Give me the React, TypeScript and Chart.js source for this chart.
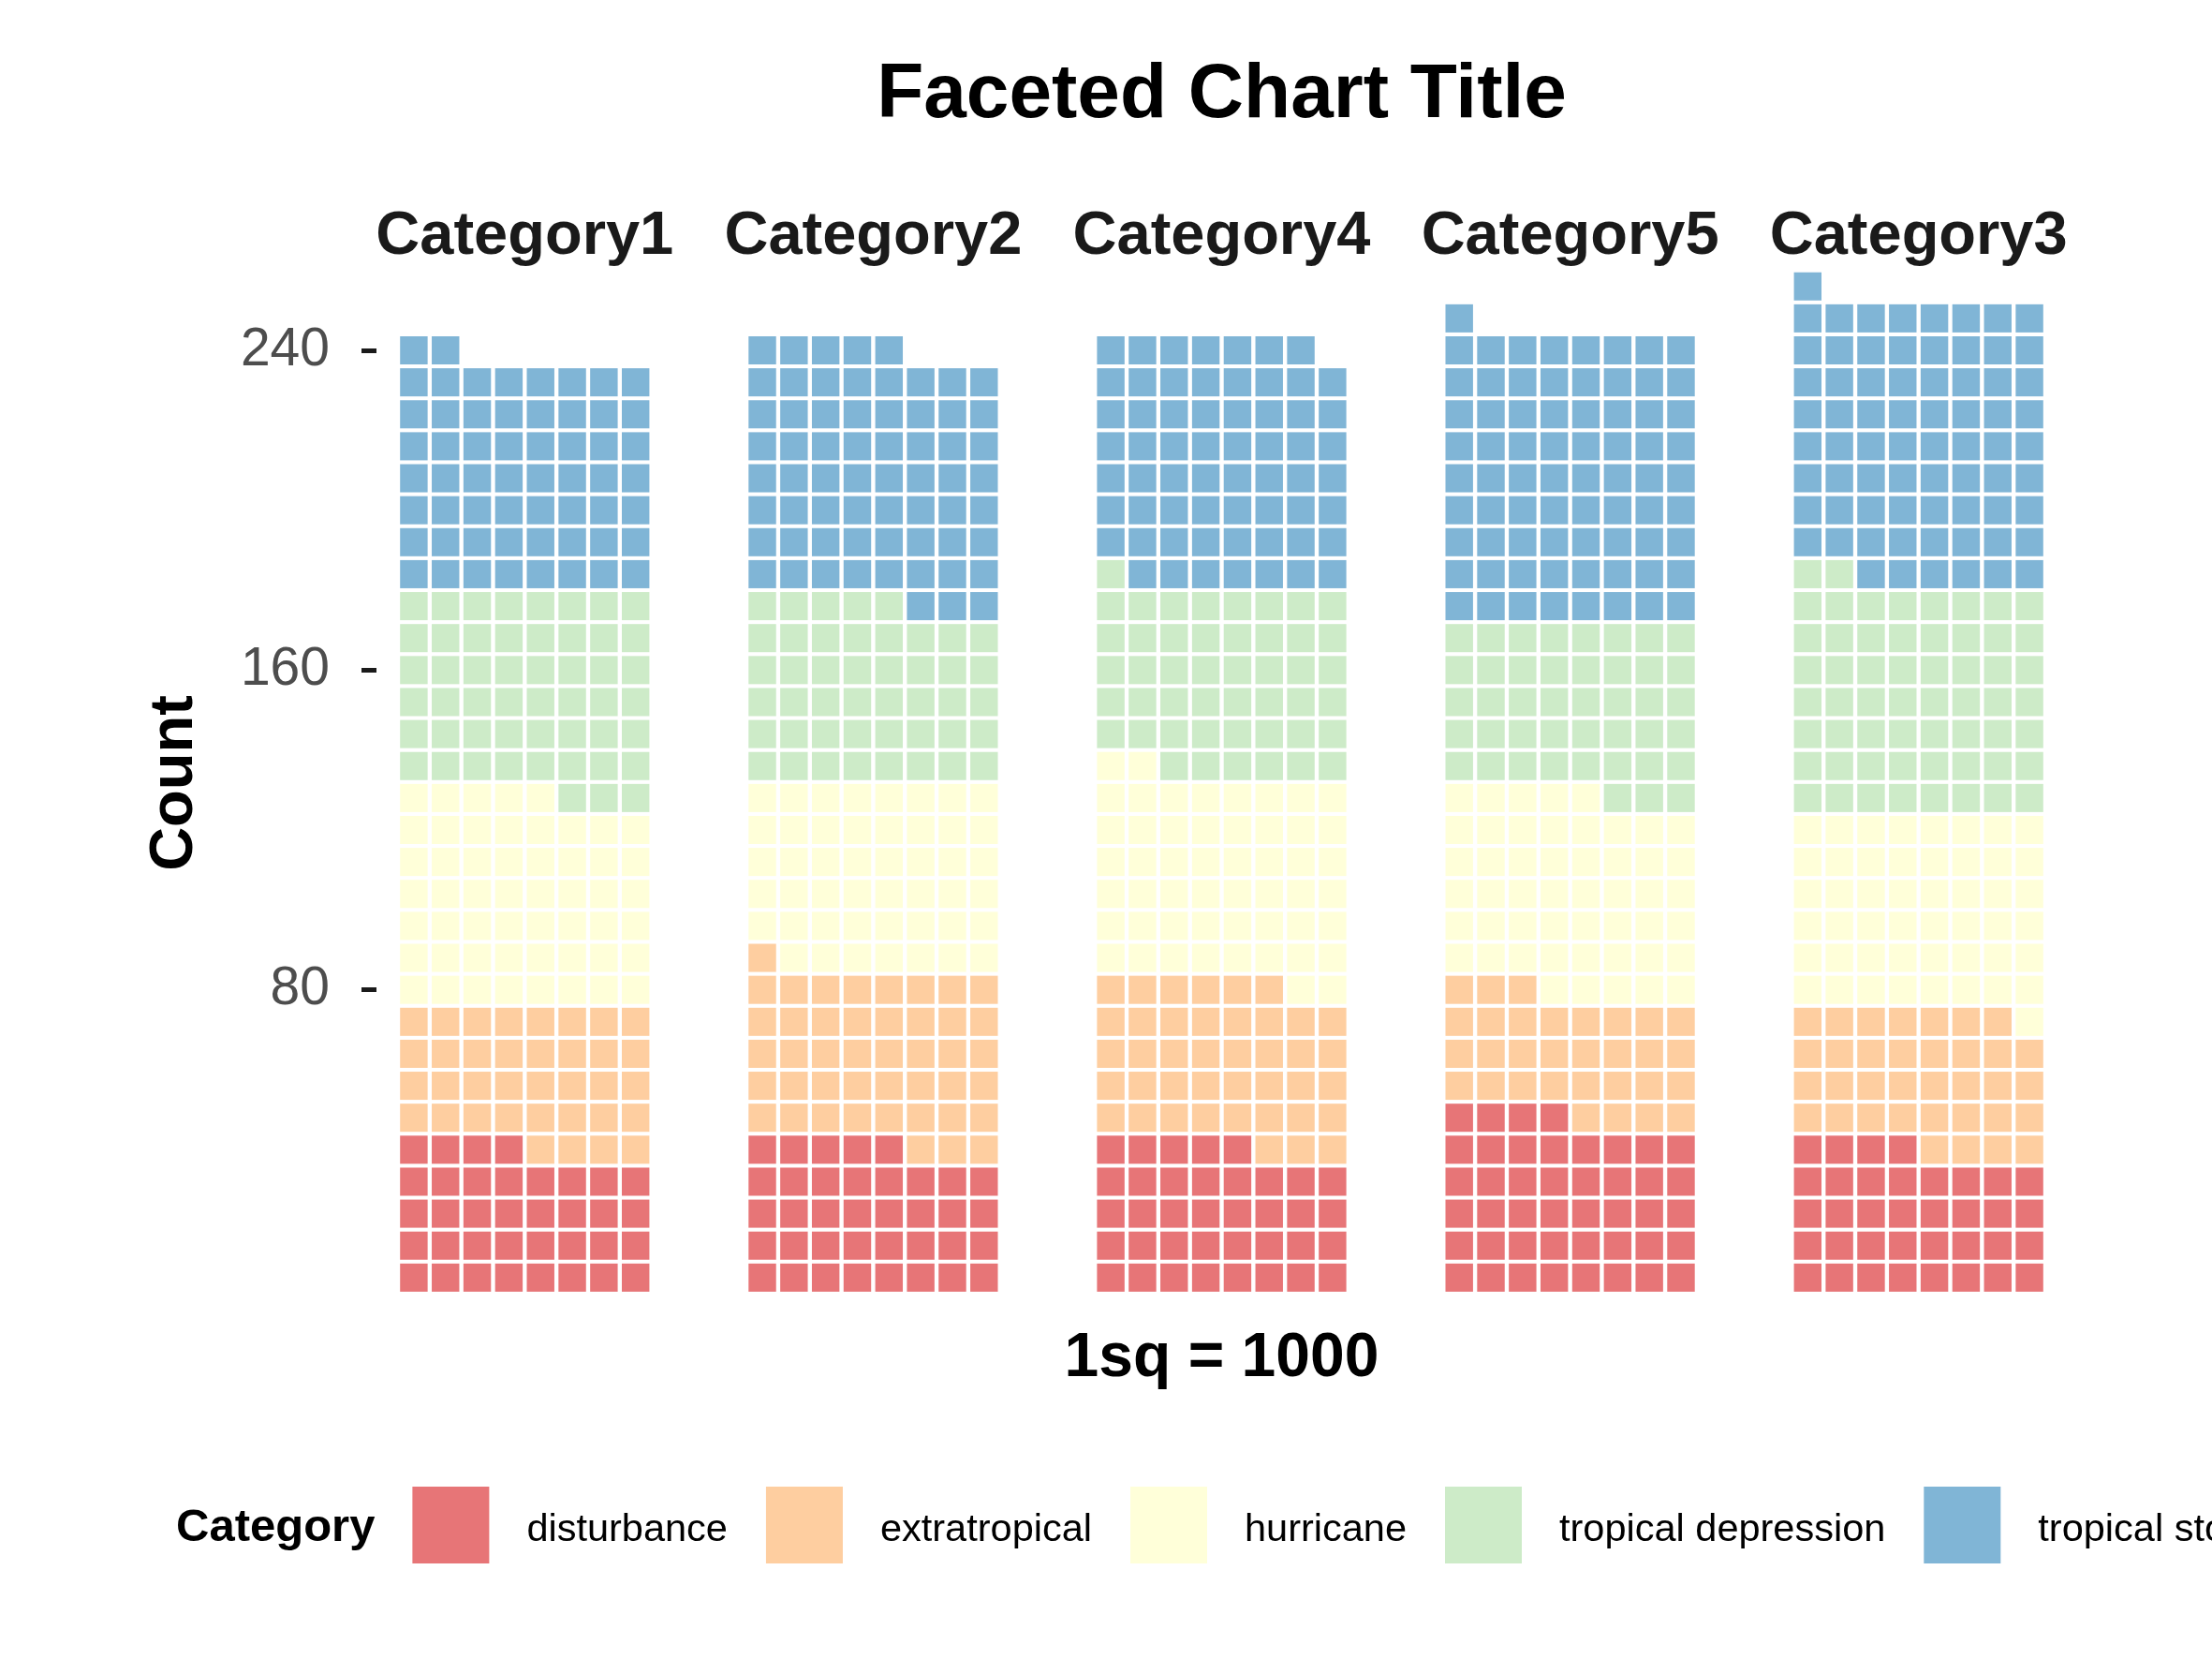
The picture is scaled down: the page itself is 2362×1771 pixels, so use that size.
import { useEffect, useRef } from "react";
import { Chart, registerables } from "chart.js";

Chart.register(...registerables);

const FONT = '"Liberation Sans", Arial, Helvetica, sans-serif';

// facet order as it appears in the picture
const FACETS = ["Category1", "Category2", "Category4", "Category5", "Category3"];
const TYPES = ["disturbance", "extratropical", "hurricane", "tropical depression", "tropical storm"];
// Spectral palette at alpha 0.6 over white
const COLORS = ["#E77577", "#FECEA0", "#FFFFD9", "#CDEBC8", "#80B5D6"];

// number of squares per facet (1sq = 1000)
const disturbance = [36, 37, 37, 44, 36];
const extratropical = [36, 44, 41, 31, 35];
const hurricane = [53, 47, 52, 50, 49];
const tropicalDepression = [51, 45, 47, 43, 58];
const tropicalStorm = [58, 64, 62, 73, 71];

const Y_TICKS = [80, 160, 240];
const COLS = 8; // squares per row
const FACET_STEP = 11; // columns between facet starts
const ROW_UNITS = 8; // count units per row

type Tile = { x: number; y: [number, number] };

function buildTiles() {
  const series = [disturbance, extratropical, hurricane, tropicalDepression, tropicalStorm];
  const out: Tile[][] = TYPES.map(() => []);
  FACETS.forEach((_, f) => {
    let i = 0;
    series.forEach((vals, t) => {
      for (let k = 0; k < vals[f]; k++, i++) {
        const col = i % COLS;
        const row = Math.floor(i / COLS);
        const mid = (row + 1) * ROW_UNITS;
        out[t].push({ x: f * FACET_STEP + col, y: [mid - 3.52, mid + 3.52] });
      }
    });
  });
  return out;
}

const textPlugin = {
  id: "waffleText",
  afterDraw(chart: any) {
    const { ctx, chartArea, scales } = chart;
    const cx = (chartArea.left + chartArea.right) / 2;
    ctx.save();
    ctx.textBaseline = "alphabetic";
    ctx.textAlign = "center";

    ctx.fillStyle = "#000000";
    ctx.font = `bold 82px ${FONT}`;
    ctx.fillText("Faceted Chart Title", cx, 125);

    // facet strips
    ctx.fillStyle = "#1A1A1A";
    ctx.font = `bold 65px ${FONT}`;
    FACETS.forEach((name, f) => {
      ctx.fillText(name, scales.x.getPixelForValue(f * FACET_STEP + (COLS - 1) / 2), 271);
    });

    // x title
    ctx.fillStyle = "#000000";
    ctx.font = `bold 66px ${FONT}`;
    ctx.fillText("1sq = 1000", cx, 1469);

    // y title
    ctx.save();
    ctx.translate(205, 836);
    ctx.rotate(-Math.PI / 2);
    ctx.font = `bold 65px ${FONT}`;
    ctx.fillText("Count", 0, 0);
    ctx.restore();

    // legend
    ctx.textAlign = "left";
    ctx.font = `bold 49px ${FONT}`;
    ctx.fillText("Category", 188, 1645);
    let x = 188 + ctx.measureText("Category").width + 40;
    ctx.font = `41.5px ${FONT}`;
    TYPES.forEach((t, k) => {
      ctx.fillStyle = COLORS[k];
      ctx.fillRect(x, 1587, 82, 82);
      ctx.fillStyle = "#000000";
      ctx.fillText(t, x + 122, 1645);
      x += 122 + ctx.measureText(t).width + 41;
    });
    ctx.restore();
  },
};

export default function App() {
  const canvasRef = useRef<HTMLCanvasElement | null>(null);

  useEffect(() => {
    const el = canvasRef.current;
    if (!el) return;
    const tiles = buildTiles();

    const c = new Chart(el, {
      type: "bar",
      data: {
        datasets: TYPES.map((t, k) => ({
          label: t,
          data: tiles[k] as any,
          backgroundColor: COLORS[k],
          borderWidth: 0,
          grouped: false,
          barPercentage: 0.87,
          categoryPercentage: 1,
        })),
      },
      options: {
        responsive: true,
        maintainAspectRatio: false,
        animation: false,
        devicePixelRatio: 1,
        layout: { padding: { left: 0, right: 155, top: 246, bottom: 373 } },
        plugins: {
          legend: { display: false },
          tooltip: { enabled: false },
          title: { display: false },
        },
        scales: {
          x: {
            type: "linear",
            min: -1.18,
            max: 52.18,
            offset: false,
            display: false,
            ticks: { stepSize: 11 },
          },
          y: {
            type: "linear",
            min: 0,
            max: 270,
            afterFit: (s: any) => {
              s.width = 402;
            },
            afterBuildTicks: (s: any) => {
              s.ticks = Y_TICKS.map((v) => ({ value: v }));
            },
            grid: {
              display: true,
              drawOnChartArea: false,
              drawTicks: true,
              tickLength: 16,
              tickWidth: 5,
              tickColor: "#1A1A1A",
            },
            border: { display: false },
            ticks: {
              color: "#4D4D4D",
              padding: 34,
              font: { family: FONT, size: 57 },
            },
          },
        },
      },
      plugins: [textPlugin],
    });

    return () => c.destroy();
  }, []);

  return (
    <div style={{ position: "absolute", left: 0, top: 0, width: 2362, height: 1771, background: "#ffffff" }}>
      <canvas ref={canvasRef} />
    </div>
  );
}
